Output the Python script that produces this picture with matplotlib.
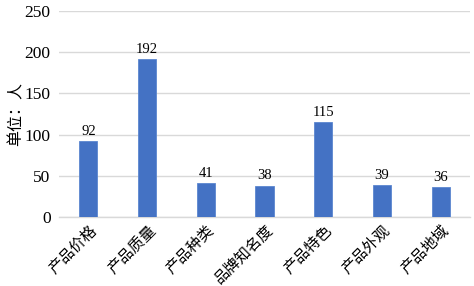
import matplotlib
matplotlib.use("Agg")
import matplotlib.pyplot as plt

# Chart data
categories = ["产品价格", "产品质量", "产品种类", "品牌知名度", "产品特色", "产品外观", "产品地域"]
counts = [92, 192, 41, 38, 115, 39, 36]
yticks = [0, 50, 100, 150, 200, 250]

cjk = ["Noto Sans CJK SC", "DejaVu Sans"]
serif = ["Liberation Serif", "DejaVu Serif"]

fig = plt.figure(figsize=(4.74, 2.86), dpi=100)
ax = fig.add_axes([0.1245, 0.241, 0.867, 0.7205])

x = range(len(categories))
bars = ax.bar(x, counts, width=0.31, color="#4472C4", edgecolor="#5B86D0",
              linewidth=0.6, zorder=3)

for xi, v in zip(x, counts):
    ax.text(xi, v + 4, str(v), ha="center", va="bottom",
            fontsize=10.5, family=serif, zorder=4)

ax.set_xlim(-0.5, len(categories) - 0.5)
ax.set_ylim(0, 250)
ax.set_yticks(yticks)
ax.set_yticklabels([str(t) for t in yticks], family=serif, fontsize=12.5)
ax.tick_params(axis="y", length=0, pad=6)
ax.tick_params(axis="x", length=0, pad=3)
ax.set_xticks(list(x))
ax.set_xticklabels(categories, rotation=45, ha="right", va="top",
                   rotation_mode="anchor", family=cjk, fontsize=11)

ax.grid(axis="y", color="#D9D9D9", linewidth=1, zorder=0)
for side in ["top", "right", "left"]:
    ax.spines[side].set_visible(False)
ax.spines["bottom"].set_color("#D9D9D9")
ax.spines["bottom"].set_linewidth(1)

fig.text(0.034, 0.6, "单位：人", rotation=90, ha="center", va="center",
         family=cjk, fontsize=11.5)

fig.savefig("out.png", dpi=100)
